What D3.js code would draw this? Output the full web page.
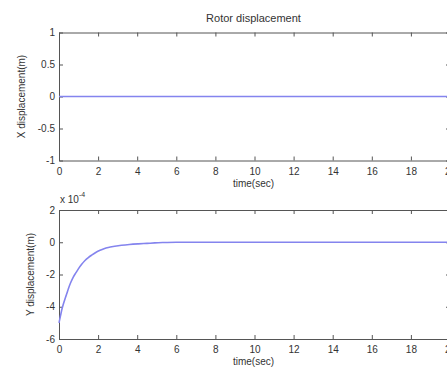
<!DOCTYPE html>
<html>
<head>
<meta charset="utf-8">
<script src="https://cdn.jsdelivr.net/npm/d3@7"></script>
<style>
  html, body { margin: 0; padding: 0; background: #fff; }
  svg { display: block; }
  text { font-family: "Liberation Sans", Arial, sans-serif; fill: #333; }
</style>
</head>
<body>
<svg id="chart" width="447" height="374"></svg>
<script>
// time ticks shared by both panels
const timeTicks = [0, 2, 4, 6, 8, 10, 12, 14, 16, 18, 20];

// X displacement (m) - flat at zero
const xTime = [0, 5, 10, 15, 20];
const xDisp = [0, 0, 0, 0, 0];
const xTicks = [-1, -0.5, 0, 0.5, 1];

// Y displacement in units of 1e-4 m
const yTime = [0, 0.07, 0.14, 0.22, 0.31, 0.4, 0.48, 0.6, 0.73, 0.86, 0.99, 1.15, 1.33, 1.5, 1.67, 1.9, 2.1, 2.3, 2.52, 2.85, 3.2, 3.6, 4.06, 4.5, 4.9, 5.3, 6, 8, 10, 12, 14, 16, 18, 20];
const yDisp = [-5.0, -4.6, -4.2, -3.85, -3.5, -3.18, -2.88, -2.5, -2.16, -1.9, -1.65, -1.38, -1.13, -0.95, -0.8, -0.62, -0.5, -0.4, -0.32, -0.25, -0.19, -0.14, -0.1, -0.07, -0.04, -0.02, 0, 0, 0, 0, 0, 0, 0, 0];
const yTicks = [-6, -4, -2, 0, 2];

const svg = d3.select("#chart");

const left = 59, right = 450;
const x = d3.scaleLinear().domain([0, 20]).range([left, right]);

// matlab style labels: plain hyphen for minus
const fmt = d => String(d);

function panel(top, bottom, domain, ticks, times, values, ylabel, ylabelX) {
  const y = d3.scaleLinear().domain(domain).range([bottom, top]);
  const g = svg.append("g");

  const axisStyle = sel => {
    sel.selectAll("path, line").attr("stroke", "#555").attr("stroke-width", 1);
    sel.selectAll("text").attr("font-size", 10).attr("fill", "#333")
      .attr("font-family", "'Liberation Sans', Arial, sans-serif");
  };

  g.append("g")
    .attr("transform", `translate(0,${bottom})`)
    .call(d3.axisBottom(x).tickValues(timeTicks).tickFormat(fmt).tickSize(-4).tickSizeOuter(0).tickPadding(7))
    .call(axisStyle);
  g.append("g")
    .attr("transform", `translate(0,${top})`)
    .call(d3.axisTop(x).tickValues(timeTicks).tickFormat("").tickSize(-4).tickSizeOuter(0))
    .call(axisStyle);
  g.append("g")
    .attr("transform", `translate(${left},0)`)
    .call(d3.axisLeft(y).tickValues(ticks).tickFormat(fmt).tickSize(-4).tickSizeOuter(0).tickPadding(4))
    .call(axisStyle);
  g.append("g")
    .attr("transform", `translate(${right},0)`)
    .call(d3.axisRight(y).tickValues(ticks).tickFormat("").tickSize(-4).tickSizeOuter(0))
    .call(axisStyle);

  const line = d3.line().x((d, i) => x(times[i])).y(d => y(d)).curve(d3.curveMonotoneX);
  g.append("path")
    .datum(values)
    .attr("fill", "none")
    .attr("stroke", "#8484ee")
    .attr("stroke-width", 1.6)
    .attr("d", line);

  g.append("text")
    .attr("transform", `translate(${ylabelX},${(top + bottom) / 2}) rotate(-90)`)
    .attr("text-anchor", "middle")
    .attr("font-size", 10)
    .text(ylabel);

  g.append("text")
    .attr("x", (left + right) / 2 - 1)
    .attr("y", bottom + 26)
    .attr("text-anchor", "middle")
    .attr("font-size", 10)
    .text("time(sec)");
  return y;
}

panel(32.5, 160.5, [-1, 1], xTicks, xTime, xDisp, "X displacement(m)", 25);
panel(210, 339, [-6, 2], yTicks, yTime, yDisp, "Y displacement(m)", 34);

svg.append("text")
  .attr("x", (left + right) / 2 - 1)
  .attr("y", 22)
  .attr("text-anchor", "middle")
  .attr("font-size", 11)
  .text("Rotor displacement");

const exp = svg.append("text").attr("x", 60).attr("y", 203).attr("font-size", 10);
exp.append("tspan").text("x 10");
exp.append("tspan").attr("dy", -6).attr("font-size", 7).text("-4");
</script>
</body>
</html>
